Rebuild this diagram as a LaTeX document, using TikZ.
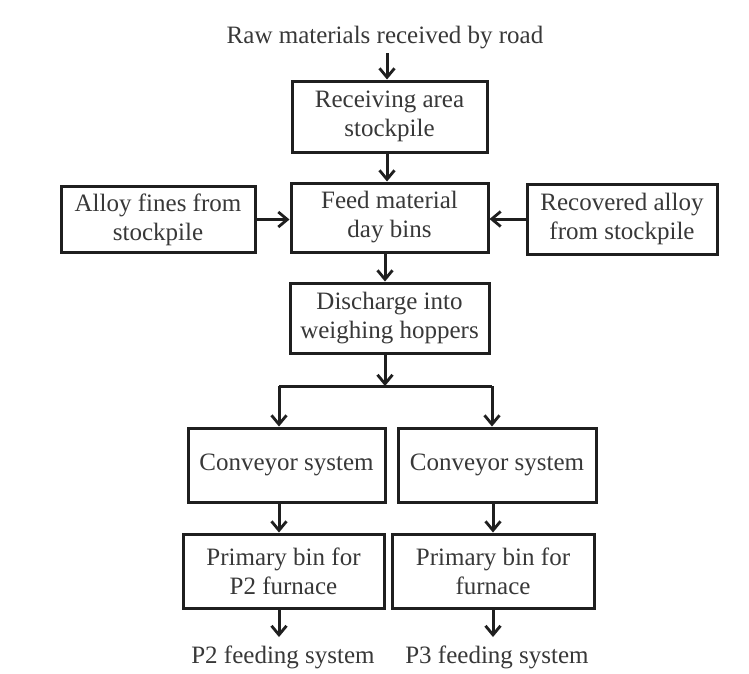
\documentclass[tikz,border=0pt]{standalone}
\usepackage{fontspec}
\setmainfont{Liberation Serif}
\usetikzlibrary{arrows.meta}
\begin{document}
\begin{tikzpicture}[x=1pt,y=-1pt,
  every node/.style={font=\fontsize{25}{29}\selectfont, text=black!78},
  box/.style={draw=black!88, line width=3pt, align=center, inner sep=0pt},
  lbl/.style={inner sep=0pt},
  arr/.style={draw=black!88, line width=3pt, -{Straight Barb[length=9pt,width=15pt,line width=2.8pt]}},
  ln/.style={draw=black!88, line width=3pt}]
\useasboundingbox (0,0) rectangle (749,673);
\fill[white] (0,0) rectangle (749,673);
\node[lbl] (title) at (385,38) {Raw materials received by road};
\node[box, minimum width=195pt, minimum height=71pt] (b1) at (389.5,116.5) {Receiving area\\stockpile};
\node[box, minimum width=197pt, minimum height=69pt] (b2) at (389.5,217.5) {Feed material\\day bins};
\node[box, minimum width=194pt, minimum height=66pt] (bl) at (158,219.5) {Alloy fines from\\stockpile};
\node[box, minimum width=190pt, minimum height=70pt] (br) at (622,219) {Recovered alloy\\from stockpile};
\node[box, minimum width=199pt, minimum height=70pt] (b3) at (389.5,318) {Discharge into\\weighing hoppers};
\node[box, minimum width=197pt, minimum height=74pt] (cl) at (286.5,465) {Conveyor system};
\node[box, minimum width=198pt, minimum height=74pt] (cr) at (497,465) {Conveyor system};
\node[box, minimum width=201pt, minimum height=74pt] (pl) at (283.5,571) {Primary bin for\\P2 furnace};
\node[box, minimum width=202pt, minimum height=74pt] (pr) at (493,571) {Primary bin for\\furnace};
\node[lbl] (fl) at (283,657) {P2 feeding system};
\node[lbl] (fr) at (497,657) {P3 feeding system};
\coordinate (t0) at (387,53);
\coordinate (s0) at (385,386);
\coordinate (sl) at (279,386);
\coordinate (sr) at (492,386);
\coordinate (al) at (279,503);
\coordinate (ar) at (493,503);
\coordinate (ql) at (279,608);
\coordinate (qr) at (493,608);
\coordinate (el) at (279,637);
\coordinate (er) at (493,637);
\draw[arr] (t0) -- (t0 |- b1.north);
\draw[arr] (b1.south -| t0) -- (b2.north -| t0);
\draw[arr] (bl.east) -- (b2.west |- bl.east);
\draw[arr] (br.west) -- (b2.east |- br.west);
\draw[arr] (b2.south -| s0) -- (b3.north -| s0);
\draw[arr] (b3.south -| s0) -- (s0);
\draw[ln] (sl) -- (sr);
\draw[arr] (sl) -- (sl |- cl.north);
\draw[arr] (sr) -- (sr |- cr.north);
\draw[arr] (al) -- (al |- pl.north);
\draw[arr] (ar) -- (ar |- pr.north);
\draw[arr] (ql) -- (el);
\draw[arr] (qr) -- (er);
\end{tikzpicture}
\end{document}
